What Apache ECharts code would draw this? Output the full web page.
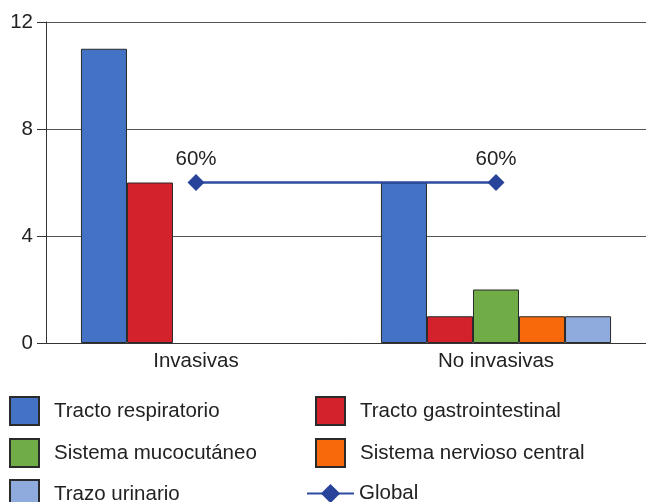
<!DOCTYPE html>
<html><head><meta charset="utf-8">
<script src="https://cdn.jsdelivr.net/npm/echarts@6/dist/echarts.min.js"></script>
<style>html,body{margin:0;padding:0;background:#fff}#c{width:646px;height:502px}</style>
</head><body><div id="c"></div>
<script>
const categories = ['Invasivas', 'No invasivas'];
const respiratorio = [11, 6];
const gastro = [6, 1];
const mucocutaneo = [0, 2];
const nervioso = [0, 1];
const urinario = [0, 1];
const globalPct = [60, 60];
const yTicks = [0, 4, 8, 12];

const font = '"Liberation Sans", Arial, sans-serif';
const fs = 20.5;
const txt = '#222';
const border = {borderColor: '#2a2a2a', borderWidth: 1};
function bar(name, data, color) {
  return {name, type: 'bar', data: data.map(v => v === 0 ? '-' : v), barGap: '0%', barCategoryGap: '23.3%',
    itemStyle: Object.assign({color}, border)};
}
function leg(name, left, top, w, h) {
  return {left, top, itemWidth: w || 29, itemHeight: h || 28, icon: w ? undefined : 'rect', data: [name],
    textStyle: {fontSize: fs, color: txt, fontFamily: font, padding: [0,0,0, w ? 0 : 10]}};
}
const chart = echarts.init(document.getElementById('c'));
chart.setOption({
  animation: false,
  textStyle: {fontFamily: font},
  grid: {left: 46, right: 0, top: 22, bottom: 159},
  xAxis: {type: 'category', data: categories,
    axisLine: {lineStyle: {color: '#333'}}, axisTick: {show: false},
    axisLabel: {color: txt, fontSize: fs, margin: 8, fontFamily: font}},
  yAxis: [{type: 'value', min: yTicks[0], max: yTicks[yTicks.length-1], interval: 4,
    axisLine: {show: true, lineStyle: {color: '#333'}},
    axisTick: {show: true, length: 9, lineStyle: {color: '#333'}},
    splitLine: {lineStyle: {color: '#555'}},
    axisLabel: {color: txt, fontSize: fs, margin: 13, fontFamily: font}},
    {type: 'value', min: 0, max: 120, show: false}],
  legend: [
    leg('Tracto respiratorio', 4, 391),
    leg('Sistema mucocutáneo', 4, 433),
    leg('Trazo urinario', 4, 474),
    leg('Tracto gastrointestinal', 310, 391),
    leg('Sistema nervioso central', 310, 433),
    leg('Global', 301, 478, 47, 24)
  ],
  series: [
    bar('Tracto respiratorio', respiratorio, '#4472C4'),
    bar('Tracto gastrointestinal', gastro, '#D3222C'),
    bar('Sistema mucocutáneo', mucocutaneo, '#70AD47'),
    bar('Sistema nervioso central', nervioso, '#F8690B'),
    bar('Trazo urinario', urinario, '#8FAADC'),
    {name: 'Global', type: 'line', yAxisIndex: 1, data: globalPct,
     symbol: 'diamond', symbolSize: 17,
     lineStyle: {color: '#2D4C9F', width: 2.5},
     itemStyle: {color: '#28449A'},
     label: {show: true, position: 'top', distance: 4, formatter: '{c}%',
       fontSize: fs, color: txt, fontFamily: font}}
  ]
});
</script></body></html>
